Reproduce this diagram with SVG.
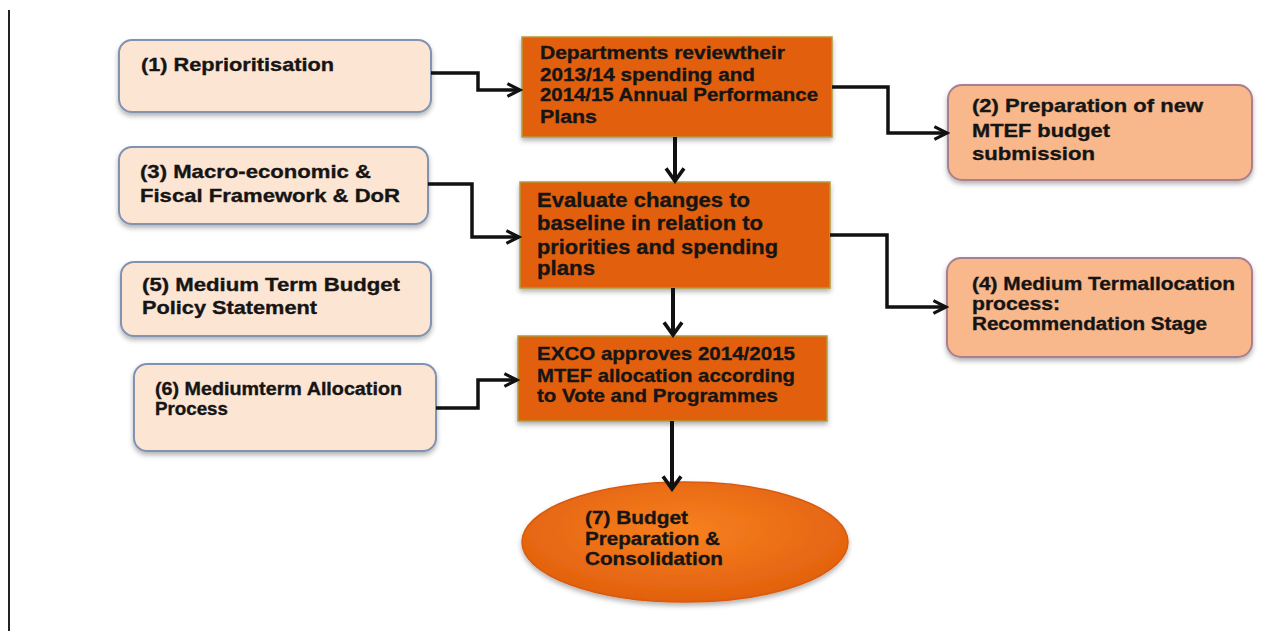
<svg xmlns="http://www.w3.org/2000/svg" width="1278" height="631" viewBox="0 0 1278 631">
<style>
.t{font-family:"Liberation Sans",Arial,sans-serif;font-weight:bold;fill:#151515;stroke:#151515;stroke-width:0.35;}
.lb{fill:#fde5d3;stroke:#8193b0;stroke-width:2;}
.rb{fill:#f8b88b;stroke:#a97f8f;stroke-width:2;}
.ob{fill:#e2600f;stroke:#b39a3a;stroke-width:1.5;}
.c{fill:none;stroke:#111;stroke-width:3.5;stroke-linejoin:miter;marker-end:url(#ah);}
.v{marker-end:url(#ahL);stroke-width:4;}
</style>
<defs>
<marker id="ah" markerUnits="userSpaceOnUse" viewBox="0 0 20 20" markerWidth="18" markerHeight="18" refX="17" refY="10" orient="auto">
<path d="M3,3 L17,10 L3,17" fill="none" stroke="#111" stroke-width="3.5"/>
</marker>
<marker id="ahL" markerUnits="userSpaceOnUse" viewBox="0 0 20 24" markerWidth="18" markerHeight="22" refX="17" refY="12" orient="auto">
<path d="M3,2 L17,12 L3,22" fill="none" stroke="#111" stroke-width="4"/>
</marker>
<filter id="sh" x="-10%" y="-10%" width="125%" height="135%">
<feDropShadow dx="0" dy="3" stdDeviation="2.5" flood-color="#000" flood-opacity="0.3"/>
</filter>
<radialGradient id="eg" cx="50%" cy="40%" r="60%">
<stop offset="0" stop-color="#f7801f"/>
<stop offset="1" stop-color="#e2600e"/>
</radialGradient>
</defs>
<rect width="1278" height="631" fill="#fff"/>
<line x1="9" y1="10" x2="9" y2="631" stroke="#222" stroke-width="2"/>

<g id="n1">
<rect class="lb" x="119" y="40" width="312" height="72" rx="13" filter="url(#sh)"/>
<text class="t" font-size="19" x="141" y="71" textLength="193" lengthAdjust="spacingAndGlyphs">(1) Reprioritisation</text>
</g>
<g id="n3">
<rect class="lb" x="119" y="147" width="309" height="77" rx="13" filter="url(#sh)"/>
<text class="t" font-size="19" x="140" y="178" textLength="231" lengthAdjust="spacingAndGlyphs">(3) Macro-economic &amp;</text>
<text class="t" font-size="19" x="140" y="202" textLength="260" lengthAdjust="spacingAndGlyphs">Fiscal Framework &amp; DoR</text>
</g>
<g id="n5">
<rect class="lb" x="121" y="262" width="310" height="74" rx="13" filter="url(#sh)"/>
<text class="t" font-size="19" x="142" y="291" textLength="258" lengthAdjust="spacingAndGlyphs">(5) Medium Term Budget</text>
<text class="t" font-size="19" x="142" y="314" textLength="175" lengthAdjust="spacingAndGlyphs">Policy Statement</text>
</g>
<g id="n6">
<rect class="lb" x="134" y="364" width="302" height="87" rx="13" filter="url(#sh)"/>
<text class="t" font-size="18" x="155" y="395" textLength="247" lengthAdjust="spacingAndGlyphs">(6) Mediumterm Allocation</text>
<text class="t" font-size="18" x="155" y="415" textLength="73" lengthAdjust="spacingAndGlyphs">Process</text>
</g>

<g id="nA">
<rect class="ob" x="522" y="37" width="310" height="100" filter="url(#sh)"/>
<text class="t" font-size="18" x="540" y="59" textLength="245" lengthAdjust="spacingAndGlyphs">Departments reviewtheir</text>
<text class="t" font-size="18" x="540" y="81" textLength="215" lengthAdjust="spacingAndGlyphs">2013/14 spending and</text>
<text class="t" font-size="18" x="540" y="101" textLength="278" lengthAdjust="spacingAndGlyphs">2014/15 Annual Performance</text>
<text class="t" font-size="18" x="540" y="123" textLength="57" lengthAdjust="spacingAndGlyphs">Plans</text>
</g>
<g id="nB">
<rect class="ob" x="520" y="182" width="310" height="106" filter="url(#sh)"/>
<text class="t" font-size="20" x="537" y="207" textLength="213" lengthAdjust="spacingAndGlyphs">Evaluate changes to</text>
<text class="t" font-size="20" x="537" y="230" textLength="226" lengthAdjust="spacingAndGlyphs">baseline in relation to</text>
<text class="t" font-size="20" x="537" y="254" textLength="241" lengthAdjust="spacingAndGlyphs">priorities and spending</text>
<text class="t" font-size="20" x="537" y="275" textLength="58" lengthAdjust="spacingAndGlyphs">plans</text>
</g>
<g id="nC">
<rect class="ob" x="518" y="336" width="309" height="85" filter="url(#sh)"/>
<text class="t" font-size="19" x="537" y="360" textLength="258" lengthAdjust="spacingAndGlyphs">EXCO approves 2014/2015</text>
<text class="t" font-size="19" x="537" y="382" textLength="258" lengthAdjust="spacingAndGlyphs">MTEF allocation according</text>
<text class="t" font-size="19" x="537" y="402" textLength="241" lengthAdjust="spacingAndGlyphs">to Vote and Programmes</text>
</g>
<g id="n7">
<ellipse cx="685" cy="542" rx="163" ry="60" fill="url(#eg)" stroke="#d85a10" stroke-width="1.5" filter="url(#sh)"/>
<text class="t" font-size="19" x="585" y="524" textLength="103" lengthAdjust="spacingAndGlyphs">(7) Budget</text>
<text class="t" font-size="19" x="585" y="545" textLength="135" lengthAdjust="spacingAndGlyphs">Preparation &amp;</text>
<text class="t" font-size="19" x="585" y="565" textLength="138" lengthAdjust="spacingAndGlyphs">Consolidation</text>
</g>

<g id="n2">
<rect class="rb" x="948" y="85" width="304" height="95" rx="14" filter="url(#sh)"/>
<text class="t" font-size="19" x="972" y="112" textLength="231" lengthAdjust="spacingAndGlyphs">(2) Preparation of new</text>
<text class="t" font-size="19" x="972" y="137" textLength="138" lengthAdjust="spacingAndGlyphs">MTEF budget</text>
<text class="t" font-size="19" x="972" y="160" textLength="123" lengthAdjust="spacingAndGlyphs">submission</text>
</g>
<g id="n4">
<rect class="rb" x="947" y="258" width="305" height="99" rx="14" filter="url(#sh)"/>
<text class="t" font-size="18" x="972" y="290" textLength="263" lengthAdjust="spacingAndGlyphs">(4) Medium Termallocation</text>
<text class="t" font-size="18" x="972" y="310" textLength="88" lengthAdjust="spacingAndGlyphs">process:</text>
<text class="t" font-size="18" x="972" y="330" textLength="235" lengthAdjust="spacingAndGlyphs">Recommendation Stage</text>
</g>

<g id="connectors">
<path class="c" d="M431,73 H478 V90 H520"/>
<path class="c" d="M428,184 H472 V237 H519"/>
<path class="c" d="M436,408 H478 V380 H517"/>
<path class="c v" d="M675,137 V181"/>
<path class="c v" d="M673,288 V335"/>
<path class="c v" d="M672,421 V489"/>
<path class="c" d="M832,87 H888 V133 H947"/>
<path class="c" d="M830,235 H887 V307 H946"/>
</g>
</svg>
